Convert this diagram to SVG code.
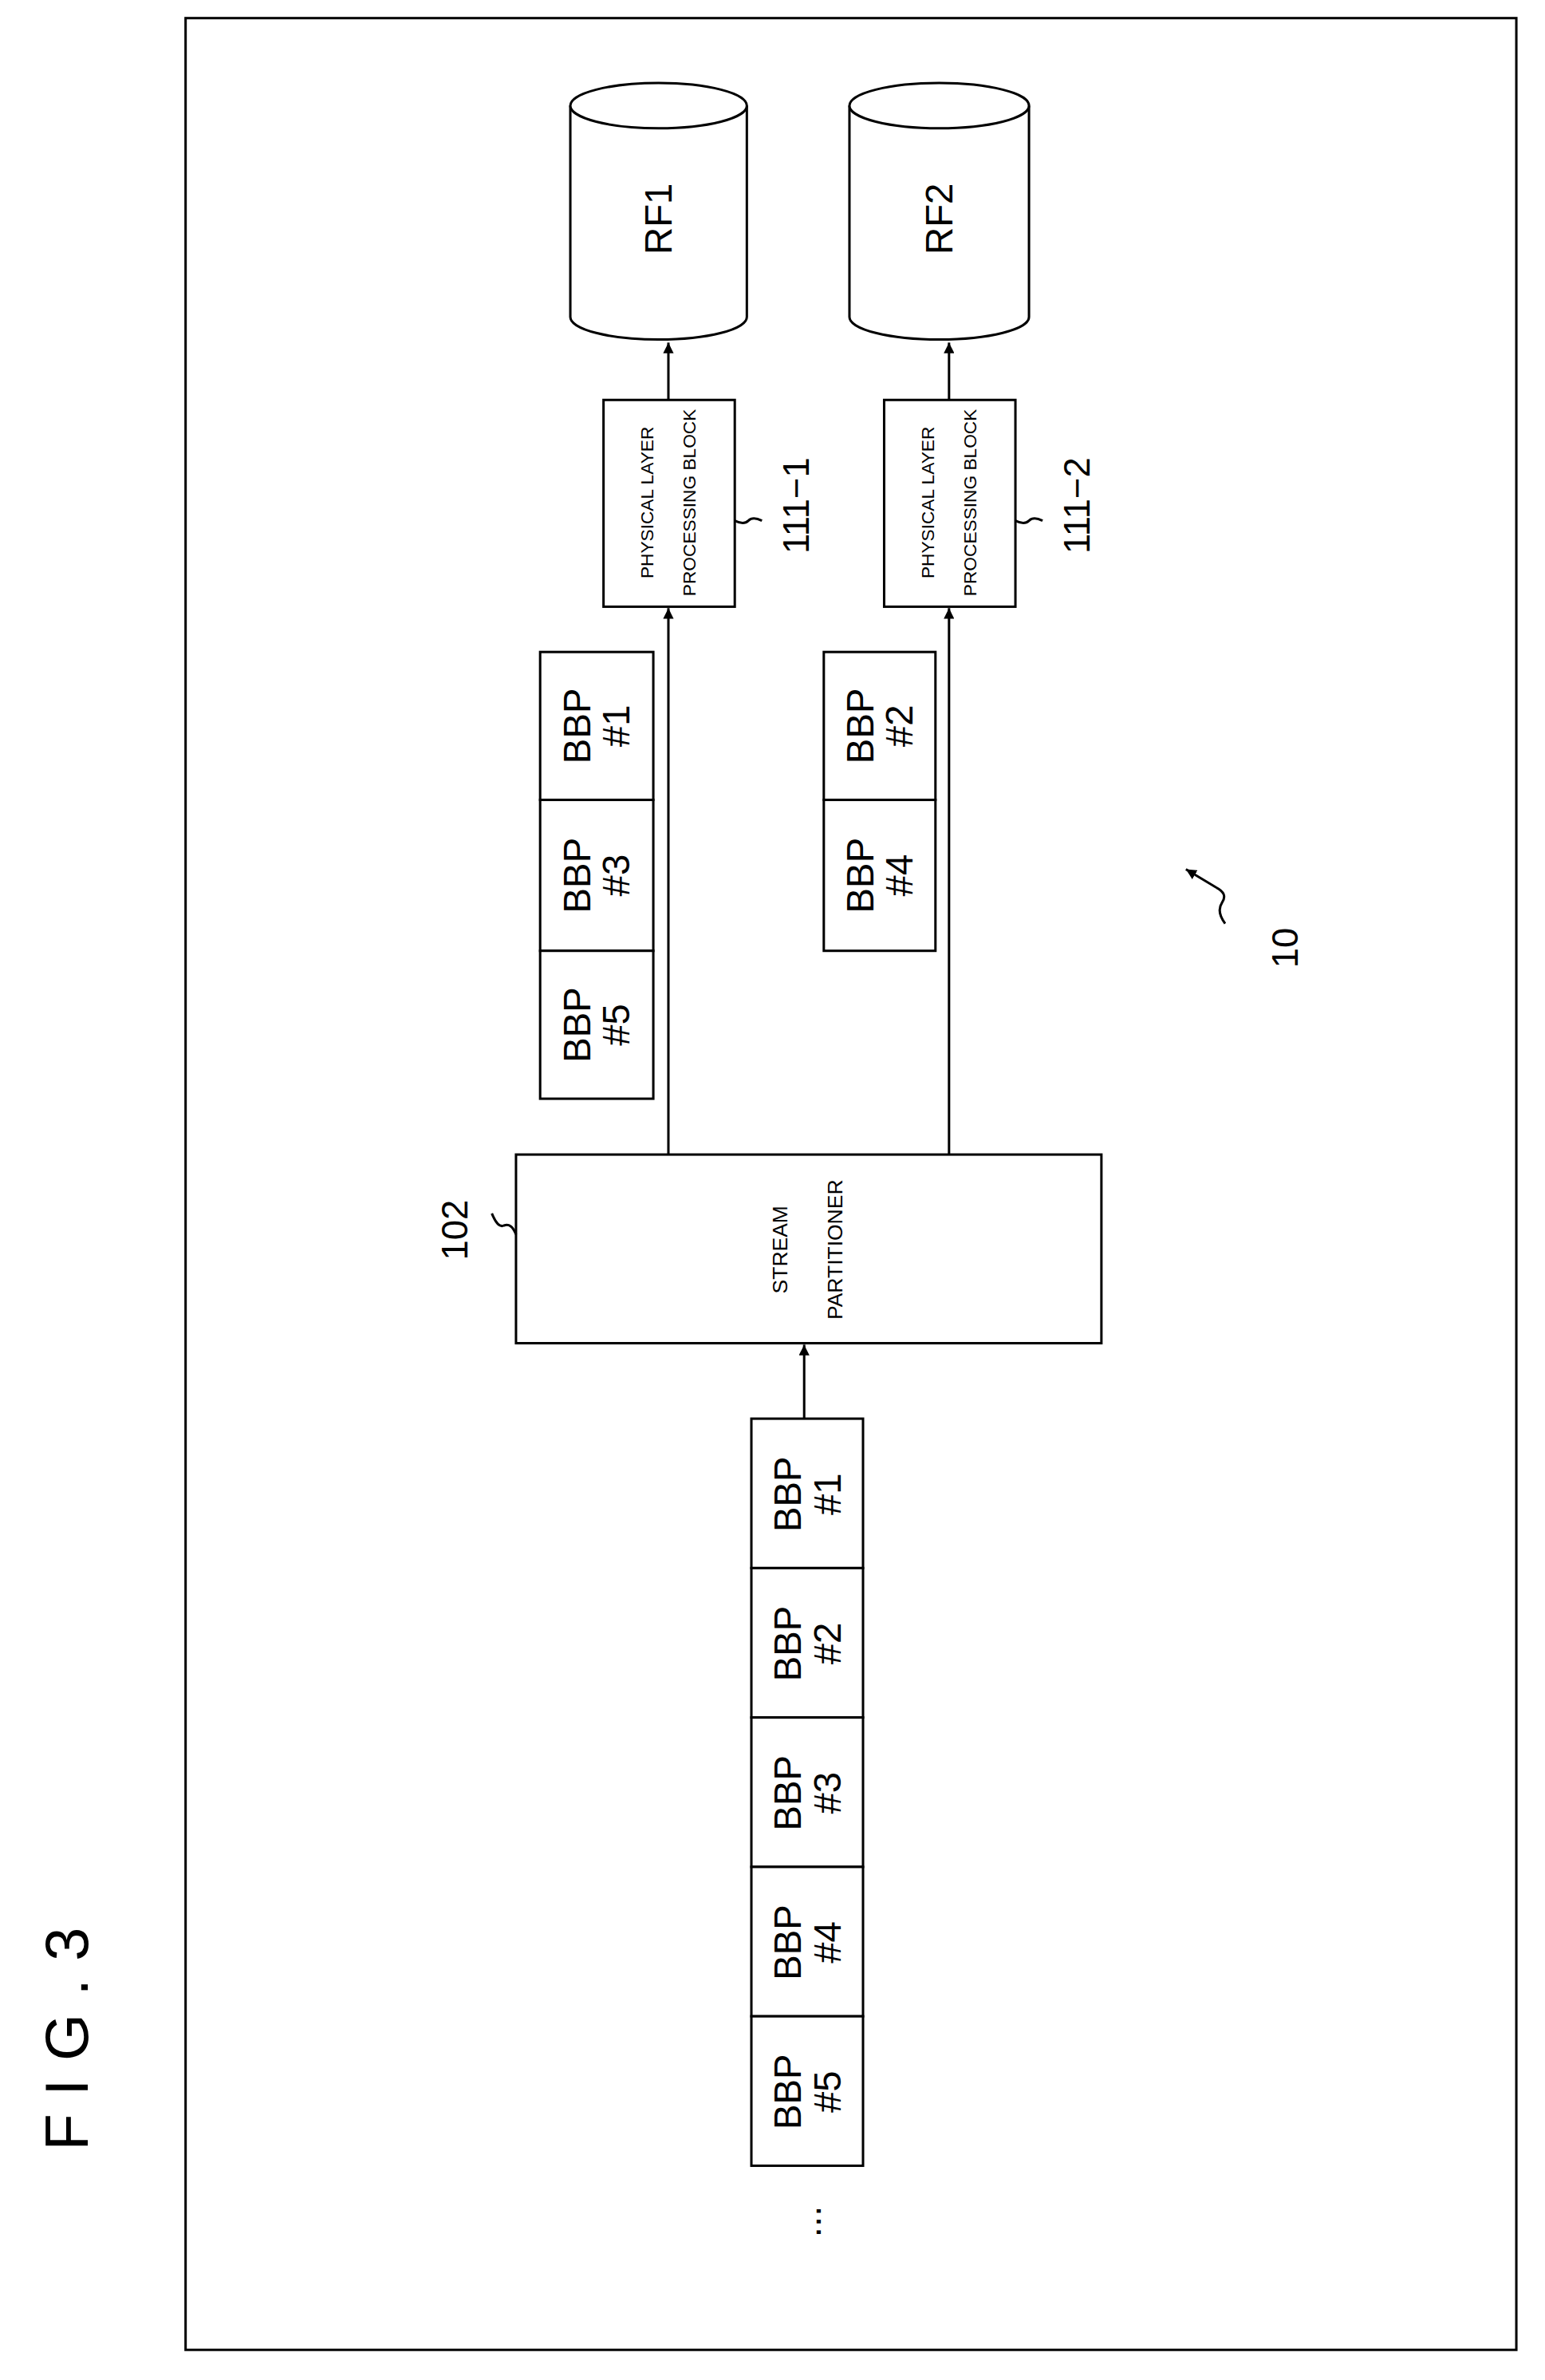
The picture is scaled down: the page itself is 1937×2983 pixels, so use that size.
<svg xmlns="http://www.w3.org/2000/svg" width="1937" height="2983" viewBox="0 0 1937 2983">
<style>
.b{fill:#fff;stroke:#000;stroke-width:1.6}
.l{fill:none;stroke:#000;stroke-width:1.6}
.t{font-family:"Liberation Sans",Arial,sans-serif;font-size:25px;fill:#000;text-anchor:middle}
.s{font-family:"Liberation Sans",Arial,sans-serif;font-size:12px;fill:#000;text-anchor:middle}
.m{font-family:"Liberation Sans",Arial,sans-serif;font-size:14px;fill:#000;text-anchor:middle}
.n{font-family:"Liberation Sans",Arial,sans-serif;font-size:24px;fill:#000;text-anchor:middle}
</style>
<defs><marker id="a" viewBox="0 0 10 10" refX="10" refY="5" markerWidth="7" markerHeight="7" markerUnits="userSpaceOnUse" orient="auto"><path d="M0,0L10,5L0,10z" fill="#000"/></marker></defs>
<rect width="1937" height="2983" fill="#fff"/>
<g transform="scale(1.8916)">
<rect x="123" y="12" width="882" height="1545" class="l"/>
<text transform="translate(58,1345) rotate(-90)" class="n" style="font-size:40px;letter-spacing:12px">FIG.3</text>
<g id="rf1"><path class="b" d="M378,70 V210 A58.5,15 0 0 0 495,210 V70"/><ellipse class="b" cx="436.5" cy="70" rx="58.5" ry="15"/><text class="t" transform="translate(445,145) rotate(-90)">RF1</text></g>
<g id="rf2"><path class="b" d="M563,70 V210 A59.5,15 0 0 0 682,210 V70"/><ellipse class="b" cx="622.5" cy="70" rx="59.5" ry="15"/><text class="t" transform="translate(631,145) rotate(-90)">RF2</text></g>
<g id="phy1"><rect class="b" x="400" y="265" width="87" height="137"/><text class="s" transform="translate(443,333) rotate(-90)"><tspan x="0" y="-10">PHYSICAL LAYER</tspan><tspan x="0" y="18">PROCESSING BLOCK</tspan></text></g>
<g id="phy2"><rect class="b" x="586" y="265" width="87" height="137"/><text class="s" transform="translate(629,333) rotate(-90)"><tspan x="0" y="-10">PHYSICAL LAYER</tspan><tspan x="0" y="18">PROCESSING BLOCK</tspan></text></g>
<g id="lab1111"><path class="l" d="M487,345 q6,3 9,0 q3,-3 9,0"/><text class="n" transform="translate(536,335) rotate(-90)">111−1</text></g>
<g id="lab1112"><path class="l" d="M673,345 q6,3 9,0 q3,-3 9,0"/><text class="n" transform="translate(722,335) rotate(-90)">111−2</text></g>
<g id="sp"><rect class="b" x="342" y="765" width="388" height="125"/><text class="m" transform="translate(536,828) rotate(-90)"><tspan x="0" y="-14">STREAM</tspan><tspan x="0" y="22">PARTITIONER</tspan></text></g>
<g id="lab102"><path class="l" d="M342,818 q-3,-8 -8,-6 q-4,2 -8,-8"/><text class="n" transform="translate(310,815) rotate(-90)">102</text></g>
<g id="lab10"><path class="l" d="M812,612 q-6,-8 -2,-14 q4,-6 -4,-10 L786,576" marker-end="url(#a)"/><text class="n" transform="translate(860,628) rotate(-90)">10</text></g>
<g id="row1">
<rect class="b" x="358" y="432" width="75" height="98"/><text class="t" transform="translate(395,481) rotate(-90)"><tspan x="0" y="-4">BBP</tspan><tspan x="0" y="22">#1</tspan></text>
<rect class="b" x="358" y="530" width="75" height="100"/><text class="t" transform="translate(395,580) rotate(-90)"><tspan x="0" y="-4">BBP</tspan><tspan x="0" y="22">#3</tspan></text>
<rect class="b" x="358" y="630" width="75" height="98"/><text class="t" transform="translate(395,679) rotate(-90)"><tspan x="0" y="-4">BBP</tspan><tspan x="0" y="22">#5</tspan></text>
</g>
<g id="row2">
<rect class="b" x="546" y="432" width="74" height="98"/><text class="t" transform="translate(583,481) rotate(-90)"><tspan x="0" y="-4">BBP</tspan><tspan x="0" y="22">#2</tspan></text>
<rect class="b" x="546" y="530" width="74" height="100"/><text class="t" transform="translate(583,580) rotate(-90)"><tspan x="0" y="-4">BBP</tspan><tspan x="0" y="22">#4</tspan></text>
</g>
<g id="input">
<rect class="b" x="498" y="940" width="74" height="99"/><text class="t" transform="translate(535,990) rotate(-90)"><tspan x="0" y="-4">BBP</tspan><tspan x="0" y="22">#1</tspan></text>
<rect class="b" x="498" y="1039" width="74" height="99"/><text class="t" transform="translate(535,1089) rotate(-90)"><tspan x="0" y="-4">BBP</tspan><tspan x="0" y="22">#2</tspan></text>
<rect class="b" x="498" y="1138" width="74" height="99"/><text class="t" transform="translate(535,1188) rotate(-90)"><tspan x="0" y="-4">BBP</tspan><tspan x="0" y="22">#3</tspan></text>
<rect class="b" x="498" y="1237" width="74" height="99"/><text class="t" transform="translate(535,1287) rotate(-90)"><tspan x="0" y="-4">BBP</tspan><tspan x="0" y="22">#4</tspan></text>
<rect class="b" x="498" y="1336" width="74" height="99"/><text class="t" transform="translate(535,1386) rotate(-90)"><tspan x="0" y="-4">BBP</tspan><tspan x="0" y="22">#5</tspan></text>
<text class="t" transform="translate(544,1472) rotate(-90)">...</text>
</g>
<g id="connectors">
<path class="l" d="M443,765 V403" marker-end="url(#a)"/>
<path class="l" d="M443,265 V227" marker-end="url(#a)"/>
<path class="l" d="M629,765 V403" marker-end="url(#a)"/>
<path class="l" d="M629,265 V227" marker-end="url(#a)"/>
<path class="l" d="M533,940 V891" marker-end="url(#a)"/>
</g>
</g>
</svg>
